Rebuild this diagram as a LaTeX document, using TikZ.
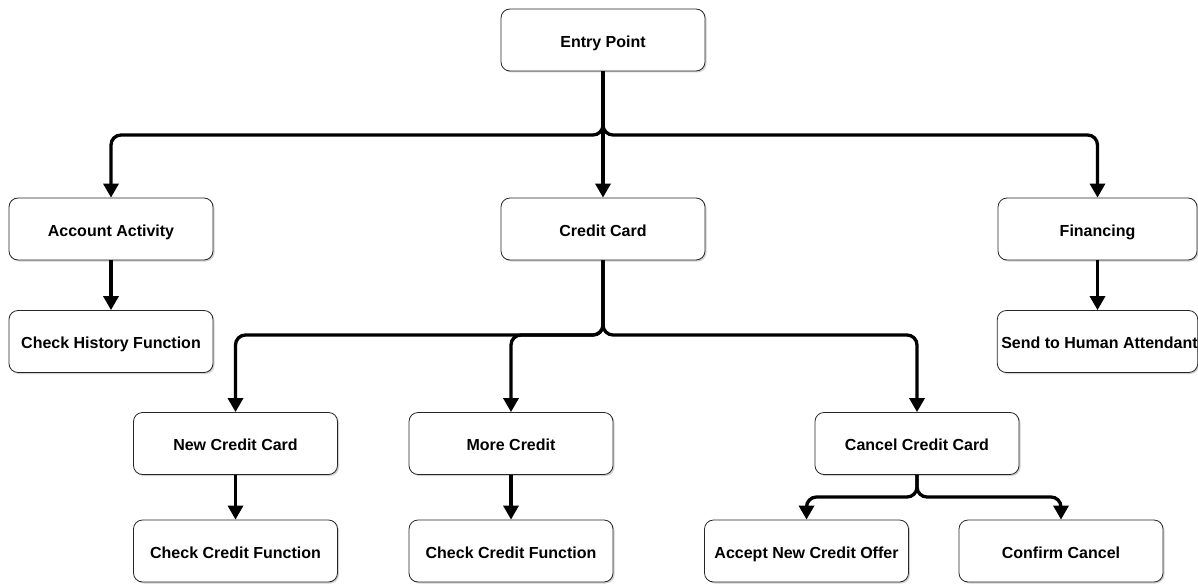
\documentclass[tikz,border=0pt]{standalone}
\usepackage{fontspec}
\setmainfont{Liberation Sans}
\usetikzlibrary{arrows.meta,shadows}
\tikzset{
  box/.style={draw=black!85, line width=0.8pt, fill=white, rounded corners=9pt,
    minimum width=204pt, minimum height=62pt, inner xsep=0pt, inner ysep=0pt,
    text height=14.5pt, text depth=0pt,
    font=\fontsize{16}{19}\selectfont\bfseries,
    drop shadow={shadow xshift=1.5pt, shadow yshift=-1.5pt, fill=black, opacity=0.18}},
  conn/.style={line width=3.3pt, rounded corners=10pt, -{Triangle[width=15pt,length=14pt]}}
}
\begin{document}
\begin{tikzpicture}[x=1pt,y=-1pt]
\useasboundingbox (0,0) rectangle (1198,583);
\node[box] (entry) at (603,40) {Entry Point};
\node[box] (acct) at (111,229) {Account Activity};
\node[box] (credit) at (603,229) {Credit Card};
\node[box, minimum width=199pt] (fin) at (1097.5,229) {Financing};
\node[box] (hist) at (111,341.5) {Check History Function};
\node[box, minimum width=199pt] (human) at (1097.5,341.5) {\hspace*{4pt}Send to Human Attendant};
\node[box] (newcc) at (235.5,443.5) {New Credit Card};
\node[box] (more) at (511,443.5) {More Credit};
\node[box] (cancel) at (917,443.5) {Cancel Credit Card};
\node[box] (chk1) at (235.5,551) {Check Credit Function};
\node[box] (chk2) at (511,551) {Check Credit Function};
\node[box] (accept) at (806.5,551) {Accept New Credit Offer};
\node[box] (confirm) at (1061,551) {Confirm Cancel};

\coordinate (b1) at (603,135);
\coordinate (b2) at (603,335);
\coordinate (b3) at (917,497);

\draw[conn] (entry.south) -- (b1) -| (acct.north);
\draw[conn] (entry.south) -- (credit.north);
\draw[conn] (entry.south) -- (b1) -| (fin.north);
\draw[conn] (acct.south) -- (hist.north);
\draw[conn] (fin.south) -- (human.north);
\draw[conn] (credit.south) -- (b2) -| (newcc.north);
\draw[conn] (credit.south) -- (b2) -| (more.north);
\draw[conn] (credit.south) -- (b2) -| (cancel.north);
\draw[conn] (newcc.south) -- (chk1.north);
\draw[conn] (more.south) -- (chk2.north);
\draw[conn] (cancel.south) -- (b3) -| (accept.north);
\draw[conn] (cancel.south) -- (b3) -| (confirm.north);
\end{tikzpicture}
\end{document}
